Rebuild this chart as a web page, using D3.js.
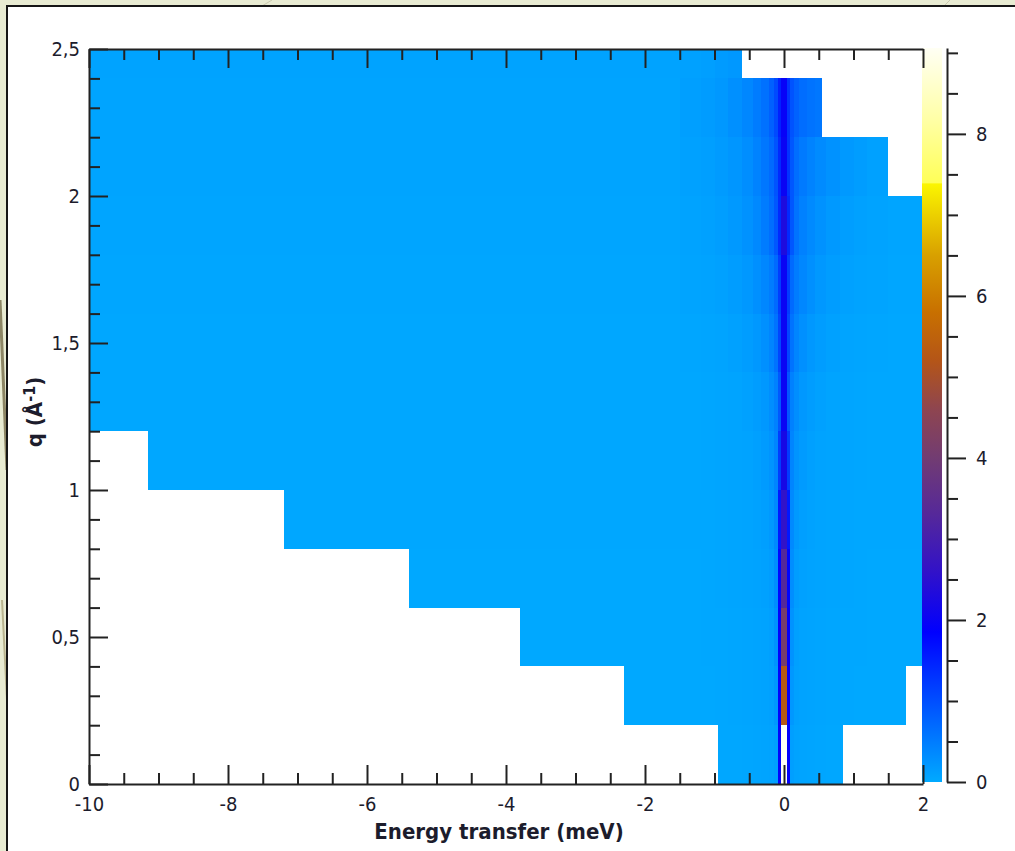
<!DOCTYPE html>
<html>
<head>
<meta charset="utf-8">
<script src="https://cdn.jsdelivr.net/npm/d3@7"></script>
<style>
  body { margin: 0; background: #e8ebd2; }
  svg { display: block; }
  text { font-family: "DejaVu Sans Condensed", "DejaVu Sans", sans-serif; fill: #1c1c2c; }
  .axis path, .axis line { stroke: #222; stroke-width: 2; }
  .axis text { font-size: 20px; }
  .title { font-size: 22px; font-weight: bold; }
</style>
</head>
<body>
<svg></svg>
<script>
// q bands (A^-1), bottom to top
const qEdges = [0, 0.2, 0.4, 0.6, 0.8, 1.0, 1.2, 1.4, 1.6, 1.8, 2.0, 2.2, 2.4, 2.5]

// energy range covered by each q band (meV)
const rowEmin = [-0.95, -2.3, -3.8, -5.4, -7.2, -9.15, -10, -10, -10, -10, -10, -10, -10]
const rowEmax = [0.85, 1.75, 2, 2, 2, 2, 2, 2, 2, 2, 1.5, 0.55, -0.6]

// flat background level of each band, away from the elastic line
const baseLevel = [0.02, 0.02, 0.02, 0.02, 0.03, 0.03, 0.03, 0.03, 0.04, 0.05, 0.06, 0.07, 0.08]

// energy bins around the elastic line
const eEdges = [-1.5, -1.2, -1.0, -0.8, -0.6, -0.45, -0.33, -0.22, -0.14, -0.09, -0.04,
                0.04, 0.09, 0.14, 0.22, 0.33, 0.45, 0.6, 0.8, 1.0, 1.2, 1.5]

// intensity in those bins, one row per q band
const intensity = [
  [0.02, 0.02, 0.03, 0.03, 0.04, 0.05, 0.06, 0.08, 0.12, 1.9, 9.5, 1.9, 0.12, 0.08, 0.06, 0.05, 0.04, 0.03, 0.03, 0.02, 0.02],
  [0.02, 0.02, 0.03, 0.04, 0.05, 0.06, 0.08, 0.10, 0.20, 1.9, 5.3, 1.9, 0.20, 0.10, 0.08, 0.06, 0.05, 0.04, 0.03, 0.02, 0.02],
  [0.02, 0.03, 0.03, 0.04, 0.05, 0.06, 0.08, 0.11, 0.25, 1.9, 4.1, 1.9, 0.25, 0.11, 0.08, 0.06, 0.05, 0.04, 0.03, 0.03, 0.02],
  [0.02, 0.03, 0.04, 0.05, 0.06, 0.08, 0.10, 0.14, 0.30, 1.8, 3.3, 1.8, 0.30, 0.14, 0.10, 0.08, 0.06, 0.05, 0.04, 0.03, 0.02],
  [0.03, 0.03, 0.04, 0.05, 0.07, 0.09, 0.12, 0.18, 0.35, 1.6, 2.6, 1.6, 0.35, 0.18, 0.12, 0.09, 0.07, 0.05, 0.04, 0.03, 0.03],
  [0.03, 0.04, 0.05, 0.06, 0.08, 0.11, 0.16, 0.24, 0.40, 1.2, 2.2, 1.2, 0.40, 0.24, 0.16, 0.11, 0.08, 0.06, 0.05, 0.04, 0.03],
  [0.03, 0.04, 0.05, 0.07, 0.10, 0.14, 0.20, 0.30, 0.45, 0.9, 2.0, 0.9, 0.45, 0.30, 0.20, 0.14, 0.10, 0.07, 0.05, 0.04, 0.03],
  [0.04, 0.05, 0.07, 0.10, 0.14, 0.20, 0.28, 0.40, 0.60, 1.1, 2.0, 1.1, 0.60, 0.40, 0.28, 0.20, 0.14, 0.10, 0.07, 0.05, 0.04],
  [0.06, 0.08, 0.10, 0.14, 0.20, 0.28, 0.38, 0.50, 0.70, 1.2, 2.0, 1.2, 0.70, 0.50, 0.38, 0.28, 0.20, 0.14, 0.10, 0.08, 0.06],
  [0.08, 0.10, 0.13, 0.18, 0.26, 0.36, 0.50, 0.65, 0.90, 1.4, 2.3, 1.4, 0.90, 0.60, 0.45, 0.35, 0.26, 0.18, 0.13, 0.10, 0.08],
  [0.10, 0.12, 0.16, 0.22, 0.30, 0.42, 0.55, 0.70, 0.95, 1.4, 2.0, 1.3, 0.90, 0.65, 0.52, 0.42, 0.34, 0.26, 0.18, 0.14, 0.10],
  [0.12, 0.15, 0.20, 0.28, 0.38, 0.50, 0.62, 0.80, 1.05, 1.5, 1.95, 1.3, 0.95, 0.78, 0.66, 0.60, 0.56, null, null, null, null],
  [0.10, 0.12, 0.16, 0.20, null, null, null, null, null, null, null, null, null, null, null, null, null, null, null, null, null]
]

// colour map
const cmapValues = [0, 1.85, 2.6, 3.3, 4.0, 4.6, 5.2, 5.8, 6.5, 7.38, 7.4, 8.2, 9.06]
const cmapColors = ["#00aaff", "#0000ff", "#3212c8", "#55289a", "#723c72", "#8e4550", "#b45518",
                    "#c87000", "#d8a000", "#fbf500", "#ffff58", "#ffffa8", "#fffff4"]

const xTicks = [-10, -8, -6, -4, -2, 0, 2]
const yTicks = [0, 0.5, 1, 1.5, 2, 2.5]
const cTicks = [0, 2, 4, 6, 8]

const svg = d3.select("svg")
    .attr("width", 1015)
    .attr("height", 851)

// slide background strips and the white panel
svg.append("rect").attr("width", 1015).attr("height", 851).attr("fill", "#e8ebd2")
svg.append("path").attr("d", "M0,300 L7,470").attr("stroke", "#8c8564").attr("stroke-width", 3)
svg.append("path").attr("d", "M2,600 L7,700").attr("stroke", "#b9b48f").attr("stroke-width", 2)
svg.append("path").attr("d", "M262,6 L272,0").attr("stroke", "#c9c8ae").attr("stroke-width", 1)
svg.append("path").attr("d", "M944,6 L950,0").attr("stroke", "#c9c8ae").attr("stroke-width", 1)
svg.append("rect")
    .attr("x", 7).attr("y", 6)
    .attr("width", 1012).attr("height", 850)
    .attr("fill", "#fff")
    .attr("stroke", "#151515")
    .attr("stroke-width", 2)

const x = d3.scaleLinear().domain([-10, 2]).range([89, 923])
const y = d3.scaleLinear().domain([0, 2.5]).range([784, 49])
const c = d3.scaleLinear().domain([0, 9.06]).range([782, 48])

const color = d3.scaleLinear()
    .domain(cmapValues)
    .range(cmapColors)
    .interpolate(d3.interpolateRgb)
    .clamp(true)

// build the cells
const cells = []
rowEmin.forEach((emin, i) => {
    const emax = rowEmax[i]
    cells.push({ e0: emin, e1: emax, q0: qEdges[i], q1: qEdges[i + 1], v: baseLevel[i] })
    intensity[i].forEach((v, j) => {
        if (v === null) return
        const e0 = Math.max(eEdges[j], emin)
        const e1 = Math.min(eEdges[j + 1], emax)
        if (e1 <= e0) return
        cells.push({ e0: e0, e1: e1, q0: qEdges[i], q1: qEdges[i + 1], v: v })
    })
})

svg.append("g")
    .attr("shape-rendering", "crispEdges")
    .selectAll("rect")
    .data(cells)
    .enter()
    .append("rect")
    .attr("x", d => x(d.e0))
    .attr("y", d => y(d.q1))
    .attr("width", d => x(d.e1) - x(d.e0))
    .attr("height", d => y(d.q0) - y(d.q1))
    .attr("fill", d => color(d.v))

// colour bar
const grad = svg.append("defs").append("linearGradient")
    .attr("id", "cbar")
    .attr("x1", 0).attr("y1", 1).attr("x2", 0).attr("y2", 0)
grad.selectAll("stop")
    .data(cmapValues)
    .enter()
    .append("stop")
    .attr("offset", d => d / 9.06)
    .attr("stop-color", (d, i) => cmapColors[i])

svg.append("rect")
    .attr("x", 922).attr("y", c(9.06))
    .attr("width", 20).attr("height", c(0) - c(9.06))
    .attr("fill", "url(#cbar)")

// number format with comma decimals
const locale = d3.formatLocale({ decimal: ",", thousands: ".", grouping: [3], currency: ["", ""], minus: "-" })
const fmt = locale.format("~g")

const minorX = d3.range(-10, 2.001, 0.5).filter(v => Math.abs(v % 2) > 1e-9)
const minorY = d3.range(0, 2.501, 0.1).filter(v => Math.abs(v * 2 - Math.round(v * 2)) > 1e-6)
const minorC = d3.range(0, 9.01, 0.5).filter(v => Math.abs(v % 2) > 1e-9)

function clean(g) {
    g.select(".domain").remove()
    return g
}

// bottom axis
svg.append("g").attr("class", "axis").attr("transform", "translate(0,784)")
    .call(d3.axisBottom(x).tickValues(minorX).tickSize(-11).tickFormat("")).call(clean)
svg.append("g").attr("class", "axis").attr("transform", "translate(0,784)")
    .call(d3.axisBottom(x).tickValues(xTicks).tickSizeInner(-19).tickSizeOuter(0).tickPadding(13).tickFormat(fmt))

// top axis
svg.append("g").attr("class", "axis").attr("transform", "translate(0,49)")
    .call(d3.axisTop(x).tickValues(minorX).tickSize(-11).tickFormat("")).call(clean)
svg.append("g").attr("class", "axis").attr("transform", "translate(0,49)")
    .call(d3.axisTop(x).tickValues(xTicks).tickSizeInner(-19).tickSizeOuter(0).tickFormat(""))

// left axis
svg.append("g").attr("class", "axis").attr("transform", "translate(89,0)")
    .call(d3.axisLeft(y).tickValues(minorY).tickSize(-11).tickFormat("")).call(clean)
svg.append("g").attr("class", "axis").attr("transform", "translate(89,0)")
    .call(d3.axisLeft(y).tickValues(yTicks).tickSizeInner(-19).tickSizeOuter(0).tickPadding(9).tickFormat(fmt))

// colour bar axis
svg.append("g").attr("class", "axis").attr("transform", "translate(947,0)")
    .call(d3.axisRight(c).tickValues(minorC).tickSize(11).tickFormat("")).call(clean)
svg.append("g").attr("class", "axis").attr("transform", "translate(947,0)")
    .call(d3.axisRight(c).tickValues(cTicks).tickSizeInner(19).tickSizeOuter(0).tickPadding(10).tickFormat(fmt))

// axis titles
svg.append("text")
    .attr("class", "title")
    .attr("x", 499)
    .attr("y", 839)
    .attr("text-anchor", "middle")
    .text("Energy transfer (meV)")

const yTitle = svg.append("text")
    .attr("class", "title")
    .attr("transform", "translate(42, 412) rotate(-90)")
    .attr("text-anchor", "middle")
yTitle.append("tspan").text("q (Å")
yTitle.append("tspan").attr("dy", -7).style("font-size", "16px").text("-1")
yTitle.append("tspan").attr("dy", 7).text(")")
</script>
</body>
</html>
